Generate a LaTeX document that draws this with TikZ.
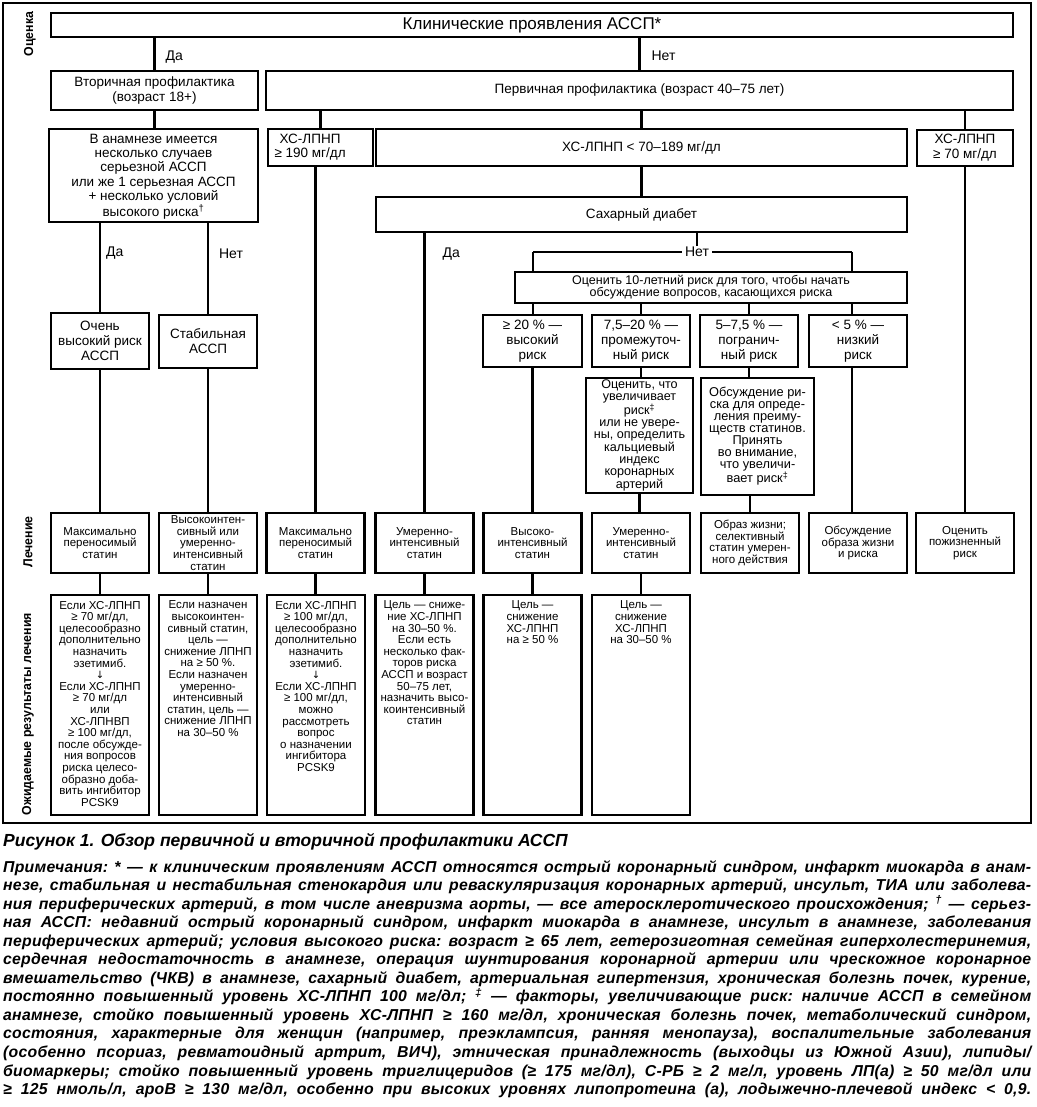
\documentclass[tikz,border=0pt]{standalone}
\usepackage{fontspec}
\usepackage{graphicx}
\setmainfont{Liberation Sans}
\newfontfamily\lblfont[FakeStretch=0.95]{Liberation Sans}
\newfontfamily\arrfont{DejaVu Sans}
\newfontfamily\notefont[LetterSpace=1.5]{Liberation Sans}
\newsavebox\nlbox
\newcommand{\nline}[1]{\sbox\nlbox{#1}\ifdim\wd\nlbox>1028pt\hbox{\resizebox{1028pt}{\height}{\usebox\nlbox}}\else\hbox to 1028pt{#1}\fi}
\newcommand{\dnarrow}{{\arrfont\fontsize{10}{11.6}\selectfont ↓}}
\newcommand{\rbx}[1]{\parbox[c][220pt][t]{98pt}{\centering\fontsize{11.5}{11.6}\selectfont\vspace*{6pt}#1}}
\begin{document}
\begin{tikzpicture}[x=1pt,y=-1pt,
  box/.style={draw, line width=2.6pt, inner sep=0pt, align=center},
  conn/.style={line width=2.2pt},
  lab/.style={inner sep=1pt, font=\fontsize{14}{16}\selectfont},
  side/.style={inner sep=0pt, font=\lblfont\bfseries\fontsize{13}{15}\selectfont},
  fA/.style={font=\fontsize{13.5}{15.5}\selectfont},
  fR/.style={font=\fontsize{13.5}{15}\selectfont},
  fT/.style={font=\fontsize{12.6}{11.9}\selectfont},
  fL/.style={font=\fontsize{11.5}{11.6}\selectfont},
  lrow/.style={box, fL, minimum width=98pt, minimum height=60pt},
  rrow/.style={box}
]
\fill[white] (0,0) rectangle (1036,1107);
\useasboundingbox (0,0) rectangle (1036,1107);
\draw[line width=1.2pt] (3,3) rectangle (1031,823);

% side labels
\node[side, rotate=90] (sOc) at (30,34) {Оценка};
\node[side, rotate=90] (sLe) at (28,542) {Лечение};
\node[side, rotate=90] (sRe) at (28,714) {Ожидаемые результаты лечения};

% assessment boxes
\node[box, minimum width=962pt, minimum height=24pt, font=\fontsize{17}{19}\selectfont] (top) at (532,25) {Клинические проявления АССП*};
\node[box, fA, minimum width=207pt, minimum height=39pt] (sec) at (154.5,90.5) {Вторичная профилактика\\(возраст 18+)};
\node[box, fA, minimum width=747pt, minimum height=39pt] (prim) at (639.5,90.5) {Первичная профилактика (возраст 40–75 лет)};
\node[box] (anam) at (153.5,175.5) {\parbox[c][93pt][t]{209pt}{\centering\fontsize{13.5}{14.3}\selectfont\vspace*{5pt}В анамнезе имеется\\несколько случаев\\серьезной АССП\\или же 1 серьезная АССП\\+ несколько условий\\высокого риска\textsuperscript{†}}};
\node[box, fR, minimum width=105pt, minimum height=37pt] (x190) at (320.5,147.5) {\makebox[92pt][l]{\shortstack{ХС-ЛПНП\\[1pt]≥ 190 мг/дл}}};
\node[box, fA, minimum width=531pt, minimum height=37pt] (xmid) at (641.5,147.5) {ХС-ЛПНП < 70–189 мг/дл};
\node[box, fR, minimum width=96pt, minimum height=36pt] (x70) at (965,148) {ХС-ЛПНП\\≥ 70 мг/дл};
\node[box, fA, minimum width=531pt, minimum height=35pt] (diab) at (641.5,214.5) {Сахарный диабет};
\node[box, fR, minimum width=98pt, minimum height=56pt] (very) at (100,341) {Очень\\высокий риск\\АССП};
\node[box, fR, minimum width=98pt, minimum height=53pt] (stab) at (208,341.5) {Стабильная\\АССП};
\node[box, font=\fontsize{12.5}{12}\selectfont, minimum width=392pt, minimum height=31pt] (eval) at (711,287.5) {Оценить 10-летний риск для того, чтобы начать\\обсуждение вопросов, касающихся риска};
\node[box, fR, minimum width=99pt, minimum height=52pt] (r20) at (532.5,341) {≥ 20 \% —\\высокий\\риск};
\node[box, fR, minimum width=98pt, minimum height=52pt] (r75) at (641,341) {7,5–20 \% —\\промежуточ-\\ный риск};
\node[box, fR, minimum width=98pt, minimum height=52pt] (r5) at (749,341) {5–7,5 \% —\\погранич-\\ный риск};
\node[box, fR, minimum width=98pt, minimum height=52pt] (rlow) at (858,341) {< 5 \% —\\низкий\\риск};
\node[box, fT, minimum width=107pt, minimum height=115pt] (ass) at (639.5,435.5) {Оценить, что\\увеличивает\\риск\textsuperscript{‡}\\или не увере-\\ны, определить\\кальциевый\\индекс\\коронарных\\артерий};
\node[box, font=\fontsize{12.8}{11.9}\selectfont, minimum width=113pt, minimum height=117pt] (disc) at (757.5,436.5) {Обсуждение ри-\\ска для опреде-\\ления преиму-\\ществ статинов.\\Принять\\во внимание,\\что увеличи-\\вает риск\textsuperscript{‡}};

% treatment row
\node[lrow] (L1) at (100,543) {Максимально\\переносимый\\статин};
\node[lrow] (L2) at (208,543) {Высокоинтен-\\сивный или\\умеренно-\\интенсивный\\статин};
\node[lrow] (L3) at (315.5,543) {Максимально\\переносимый\\статин};
\node[lrow] (L4) at (424.5,543) {Умеренно-\\интенсивный\\статин};
\node[lrow] (L5) at (532.5,543) {Высоко-\\интенсивный\\статин};
\node[lrow] (L6) at (641,543) {Умеренно-\\интенсивный\\статин};
\node[lrow] (L7) at (750,543) {Образ жизни;\\селективный\\статин умерен-\\ного действия};
\node[lrow] (L8) at (858,543) {Обсуждение\\образа жизни\\и риска};
\node[lrow] (L9) at (965,543) {Оценить\\пожизненный\\риск};

% results row
\node[rrow] (R1) at (100,705) {\rbx{Если ХС-ЛПНП\\≥ 70 мг/дл,\\целесообразно\\дополнительно\\назначить\\эзетимиб.\\\dnarrow\\Если ХС-ЛПНП\\≥ 70 мг/дл\\или\\ХС-ЛПНВП\\≥ 100 мг/дл,\\после обсужде-\\ния вопросов\\риска целесо-\\образно доба-\\вить ингибитор\\PCSK9}};
\node[rrow] (R2) at (208,705) {\rbx{Если назначен\\высокоинтен-\\сивный статин,\\цель —\\снижение ЛПНП\\на ≥ 50 \%.\\Если назначен\\умеренно-\\интенсивный\\статин, цель —\\снижение ЛПНП\\на 30–50 \%}};
\node[rrow] (R3) at (316,705) {\rbx{Если ХС-ЛПНП\\≥ 100 мг/дл,\\целесообразно\\дополнительно\\назначить\\эзетимиб.\\\dnarrow\\Если ХС-ЛПНП\\≥ 100 мг/дл,\\можно\\рассмотреть\\вопрос\\о назначении\\ингибитора\\PCSK9}};
\node[rrow] (R4) at (424.5,705) {\rbx{Цель — сниже-\\ние ХС-ЛПНП\\на 30–50 \%.\\Если есть\\несколько фак-\\торов риска\\АССП и возраст\\50–75 лет,\\назначить высо-\\коинтенсивный\\статин}};
\node[rrow] (R5) at (532.5,705) {\rbx{Цель —\\снижение\\ХС-ЛПНП\\на ≥ 50 \%}};
\node[rrow] (R6) at (641,705) {\rbx{Цель —\\снижение\\ХС-ЛПНП\\на 30–50 \%}};

% connectors
\draw[conn] (sec.north |- top.south) -- node[lab, pos=0.6, anchor=west, xshift=9pt] (lDa1) {Да} (sec.north);
\draw[conn] (prim.north |- top.south) -- node[lab, pos=0.55, anchor=west, xshift=10pt] (lNet1) {Нет} (prim.north);
\draw[conn] (sec.south) -- (sec.south |- anam.north);
\draw[conn] (x190.north |- prim.south) -- (x190.north);
\draw[conn] (xmid.north |- prim.south) -- (xmid.north);
\draw[conn] (x70.north |- prim.south) -- (x70.north);
\draw[conn] (xmid.south) -- (xmid.south |- diab.north);
\draw[conn] (very.north |- anam.south) -- node[lab, pos=0.34, anchor=west, xshift=4pt] (lDa2) {Да} (very.north);
\draw[conn] (stab.north |- anam.south) -- node[lab, pos=0.34, anchor=west, xshift=9pt] (lNet2) {Нет} (stab.north);
\draw[conn] (very.south) -- (very.south |- L1.north);
\draw[conn] (stab.south) -- (stab.south |- L2.north);
\draw[conn] (L3.north |- x190.south) -- (L3.north);
\draw[conn] (L4.north |- diab.south) -- node[lab, pos=0.075, anchor=west, xshift=16pt] (lDa3) {Да} (L4.north);
\coordinate (jl) at (533,252);
\coordinate (jr) at (852,252);
\draw[conn] (jl) -- (jr);
\node[lab, fill=white, inner xsep=3pt] (net3) at (697,252) {Нет};
\draw[conn] (net3.north |- diab.south) -- (net3.north);
\draw[conn] (jl) -- (jl |- eval.north);
\draw[conn] (jr) -- (jr |- eval.north);
\draw[conn] (jl |- eval.south) -- (jl |- r20.north);
\draw[conn] (r75.north |- eval.south) -- (r75.north);
\draw[conn] (r5.north |- eval.south) -- (r5.north);
\draw[conn] (jr |- eval.south) -- (jr |- rlow.north);
\draw[conn] (r75.south) -- (r75.south |- ass.north);
\draw[conn] (r5.south) -- (r5.south |- disc.north);
\draw[conn] (r20.south) -- (r20.south |- L5.north);
\draw[conn] (ass.south) -- (ass.south |- L6.north);
\draw[conn] (L7.north |- disc.south) -- (L7.north);
\draw[conn] (jr |- rlow.south) -- (jr |- L8.north);
\draw[conn] (x70.south) -- (x70.south |- L9.north);
\foreach \a/\b in {L1/R1,L2/R2,L3/R3,L4/R4,L5/R5,L6/R6} \draw[conn] (\a.south) -- (\a.south |- \b.north);

% caption
\node[anchor=base west, inner sep=0pt, font=\fontsize{17.5}{20}\selectfont\bfseries\itshape] (cap) at (3,846) {Рисунок 1. Обзор первичной и вторичной профилактики АССП};
\node[anchor=base west, inner sep=0pt, font=\notefont\fontsize{15.8}{18.55}\selectfont\bfseries\itshape] (notes) at (3,872) {\parbox[t]{1028pt}{\frenchspacing\baselineskip=18.55pt
\nline{Примечания: * — к клиническим проявлениям АССП относятся острый коронарный синдром, инфаркт миокарда в анам-}
\nline{незе, стабильная и нестабильная стенокардия или реваскуляризация коронарных артерий, инсульт, ТИА или заболева-}
\nline{ния периферических артерий, в том числе аневризма аорты, — все атеросклеротического происхождения; \textsuperscript{†} — серьез-}
\nline{ная АССП: недавний острый коронарный синдром, инфаркт миокарда в анамнезе, инсульт в анамнезе, заболевания}
\nline{периферических артерий; условия высокого риска: возраст ≥ 65 лет, гетерозиготная семейная гиперхолестеринемия,}
\nline{сердечная недостаточность в анамнезе, операция шунтирования коронарной артерии или чрескожное коронарное}
\nline{вмешательство (ЧКВ) в анамнезе, сахарный диабет, артериальная гипертензия, хроническая болезнь почек, курение,}
\nline{постоянно повышенный уровень ХС-ЛПНП 100 мг/дл; \textsuperscript{‡} — факторы, увеличивающие риск: наличие АССП в семейном}
\nline{анамнезе, стойко повышенный уровень ХС-ЛПНП ≥ 160 мг/дл, хроническая болезнь почек, метаболический синдром,}
\nline{состояния, характерные для женщин (например, преэклампсия, ранняя менопауза), воспалительные заболевания}
\nline{(особенно псориаз, ревматоидный артрит, ВИЧ), этническая принадлежность (выходцы из Южной Азии), липиды/}
\nline{биомаркеры; стойко повышенный уровень триглицеридов (≥ 175 мг/дл), С-РБ ≥ 2 мг/л, уровень ЛП(а) ≥ 50 мг/дл или}
\nline{≥ 125 нмоль/л, ароВ ≥ 130 мг/дл, особенно при высоких уровнях липопротеина (а), лодыжечно-плечевой индекс < 0,9.}
}};
\end{tikzpicture}
\end{document}
